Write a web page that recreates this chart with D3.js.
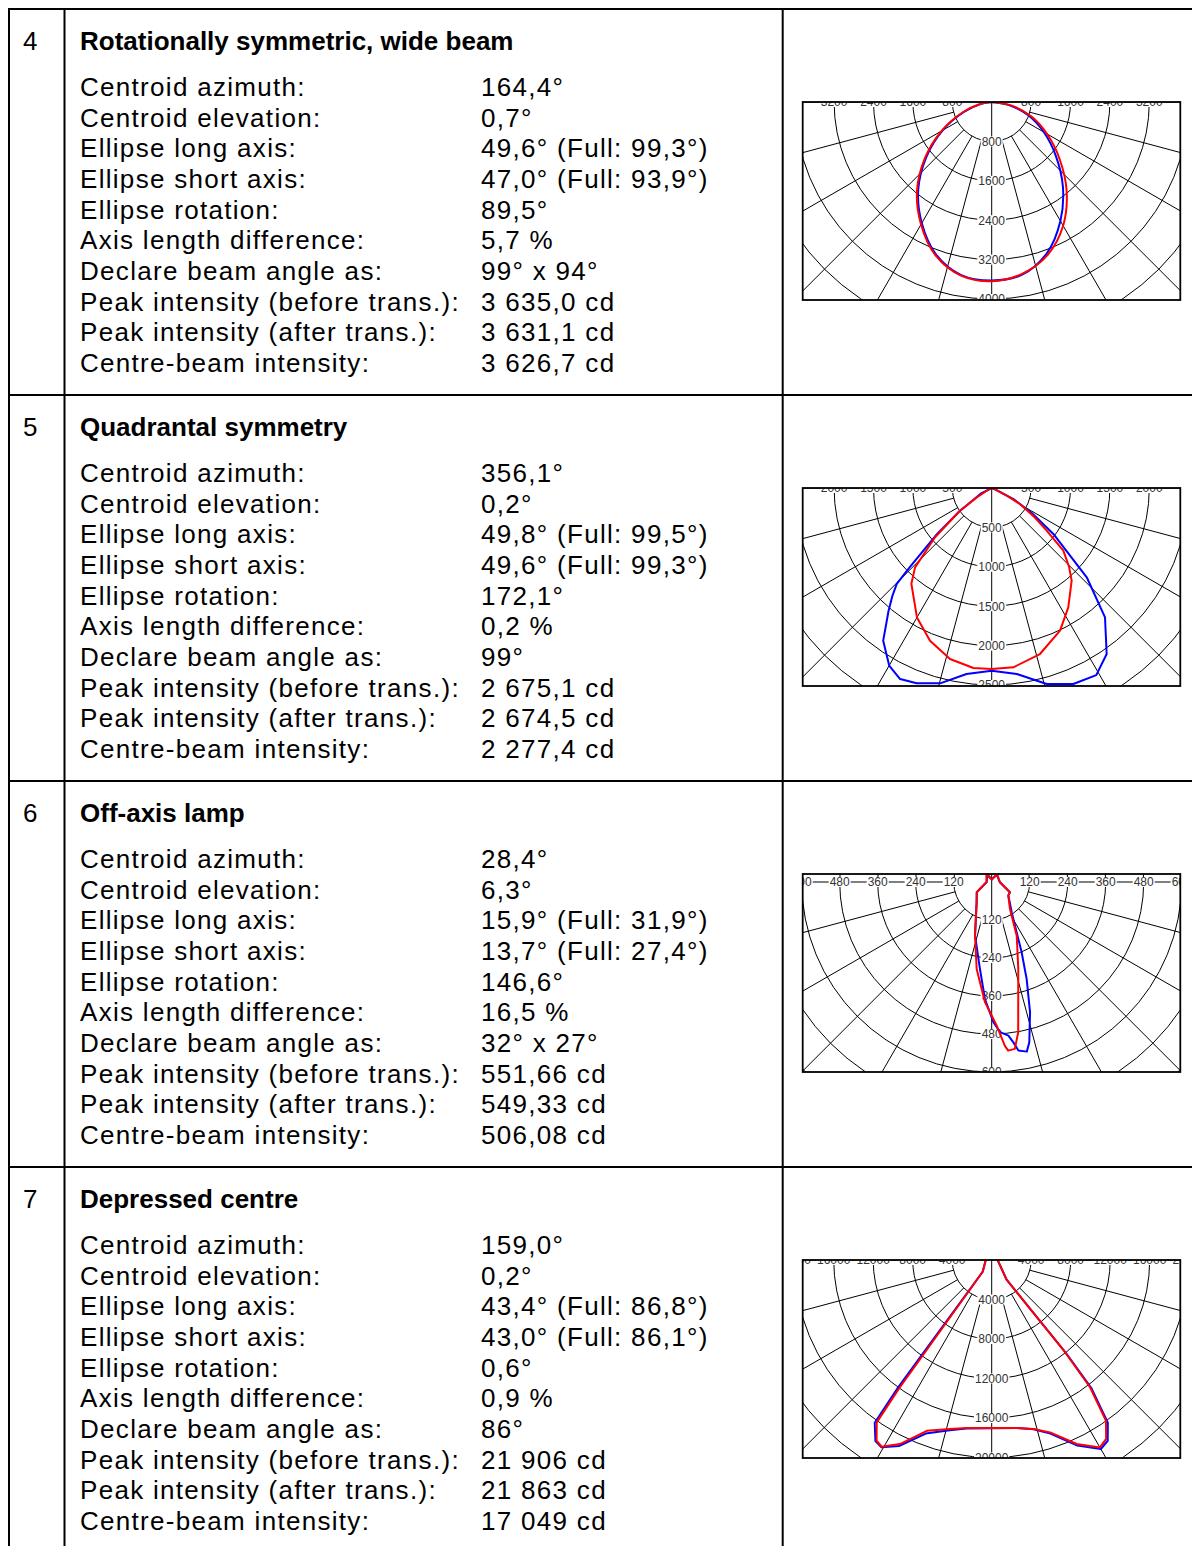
<!DOCTYPE html>
<html><head><meta charset="utf-8">
<script src="https://cdn.jsdelivr.net/npm/d3@7"></script>
<style>
html,body{margin:0;padding:0;background:#fff;}
svg{display:block;}
</style></head><body>
<svg id="c" width="1192" height="1546"></svg>
<script>
// ---------- table data ----------
const rowNumbers = ["4", "5", "6", "7"];
const rowTitles = ["Rotationally symmetric, wide beam", "Quadrantal symmetry", "Off-axis lamp", "Depressed centre"];
const fieldLabels = ["Centroid azimuth:", "Centroid elevation:", "Ellipse long axis:", "Ellipse short axis:",
  "Ellipse rotation:", "Axis length difference:", "Declare beam angle as:",
  "Peak intensity (before trans.):", "Peak intensity (after trans.):", "Centre-beam intensity:"];
const values4 = ["164,4°", "0,7°", "49,6° (Full: 99,3°)", "47,0° (Full: 93,9°)", "89,5°", "5,7 %", "99° x 94°", "3 635,0 cd", "3 631,1 cd", "3 626,7 cd"];
const values5 = ["356,1°", "0,2°", "49,8° (Full: 99,5°)", "49,6° (Full: 99,3°)", "172,1°", "0,2 %", "99°", "2 675,1 cd", "2 674,5 cd", "2 277,4 cd"];
const values6 = ["28,4°", "6,3°", "15,9° (Full: 31,9°)", "13,7° (Full: 27,4°)", "146,6°", "16,5 %", "32° x 27°", "551,66 cd", "549,33 cd", "506,08 cd"];
const values7 = ["159,0°", "0,2°", "43,4° (Full: 86,8°)", "43,0° (Full: 86,1°)", "0,6°", "0,9 %", "86°", "21 906 cd", "21 863 cd", "17 049 cd"];

// ---------- polar chart data: [angle from nadir (deg, left negative), intensity cd] ----------
const tickSteps = [800, 500, 120, 4000];
const radialLabelCounts = [5, 5, 5, 5];
const topLabelCounts = [4, 4, 5, 5];

const curve4Blue = [[-90,0],[-80,220],[-70,610],[-60,1150],[-50,1730],[-40,2320],[-30,2840],[-20,3300],[-10,3570],[0,3625],
  [10,3560],[20,3270],[30,2790],[40,2250],[50,1700],[60,1220],[70,790],[80,340],[90,0]];
const curve4Red = [[-90,0],[-80,240],[-70,640],[-60,1180],[-50,1768],[-40,2360],[-30,2870],[-20,3320],[-10,3580],[0,3641],
  [10,3545],[20,3310],[30,2900],[40,2368],[50,1800],[60,1300],[70,860],[80,400],[90,0]];

const curve5Blue = [[-90,0],[-68,0],[-63,150],[-58,250],[-54,520],[-50,900],[-47,1250],[-46,1445],[-44.7,1713],[-42.5,1870],
  [-40,2037],[-35.4,2377],[-30,2602],[-25.6,2689],[-21,2655],[-14.8,2564],[-7.7,2382],[0,2319],[7.7,2382],[15.7,2584],
  [22.6,2694],[29.2,2720],[34.7,2563],[41.2,2183],[46.8,1655],[53.3,976],[58,600],[63,310],[68,60],[75,0],[90,0]];
const curve5Red = [[-90,0],[-70,0],[-62,60],[-58,224],[-54.4,495],[-49,953],[-44,1400],[-40,1586],[-30,1897],[-22,2090],
  [-13.7,2233],[-5.8,2296],[0,2296],[6.9,2292],[16.2,2194],[25.6,2007],[32.7,1799],[40.8,1553],[44.5,1400],[48.8,1208],
  [52.2,883],[56,640],[60.5,412],[63,214],[68,40],[75,0],[90,0]];

const curve6Blue = [[-150,28],[-90,16],[-55.5,57],[-36.5,80],[-17.3,177],[-7.7,277],[-3.3,370],[0.7,443],[3.2,475],[6.2,488],
  [7.7,511],[9,539],[11.7,547],[13.2,520],[16.4,429],[19.8,326],[23.1,241],[26.4,177],[33.4,115],[45,78],[50.5,68],
  [60.6,66],[88,26],[145,28],[180,8],[-150,28]];
const curve6Red = [[-145,30],[-90,16],[-55.5,57.5],[-36.5,80],[-17.3,177],[-9.8,279],[-3.2,380],[2,454],[4.6,519],[5.6,535],
  [7.9,532],[10,482],[17,287],[25,187],[34.1,103],[50.5,68],[60.6,66],[88,26],[145,30],[180,8],[-145,30]];

const curve7Blue = [[-90,600],[-37.5,1500],[-36.5,4275],[-36.4,10100],[-36.3,16000],[-35.7,20300],[-32.7,21800],[-30.5,22000],
  [-26.5,21050],[-20.8,18800],[-13.9,17750],[-8.5,17250],[0,17050],[8.5,17200],[13.9,17650],[18.7,18550],[24.8,20700],
  [30,22100],[32.7,21750],[35.5,20250],[37.9,16400],[38.6,12000],[38.4,7860],[37.2,2500],[90,600]];
const curve7Red = [[-90,600],[-37.5,1500],[-36.3,4275],[-35.9,10090],[-35.8,15890],[-35.3,20150],[-32.5,21700],[-30.5,21950],
  [-26.5,20830],[-20.8,18500],[-13.9,17630],[-8.5,17200],[0,17020],[8.5,17200],[13.9,17630],[18.7,18430],[24.8,20530],
  [30,21920],[32.6,21510],[35.4,19980],[37.7,16290],[38.5,12000],[38.3,7860],[37,2500],[90,600]];

const tableValues = [values4, values5, values6, values7];
const curvesBlue = [curve4Blue, curve5Blue, curve6Blue, curve7Blue];
const curvesRed = [curve4Red, curve5Red, curve6Red, curve7Red];

// ---------- layout ----------
const W = 1192, H = 1546;
const rowTop = 9, rowH = 386;
const colX = [9, 64.5, 782.7];
const pxPerStep = [39.4, 39.4, 38, 39.5];
const centerOffset = [0, 0, 8, 0];
const box = {x0: 802.7, x1: 1180.3, top: 102, h: 198};

const svg = d3.select("#c");
svg.append("rect").attr("width", W).attr("height", H).attr("fill", "#fff");

const fontFam = "'Liberation Sans', Arial, Helvetica, sans-serif";

// table lines
const gLines = svg.append("g").attr("stroke", "#000").attr("stroke-width", 2);
for (let i = 0; i < 4; i++) {
  gLines.append("line").attr("x1", 8).attr("x2", W).attr("y1", rowTop + i * rowH).attr("y2", rowTop + i * rowH);
}
colX.forEach(x => gLines.append("line").attr("x1", x).attr("x2", x).attr("y1", rowTop - 1).attr("y2", H));

// text
rowTitles.forEach((t, i) => {
  const y0 = i * rowH;
  const g = svg.append("g").attr("font-family", fontFam).attr("fill", "#000");
  g.append("text").attr("x", 23).attr("y", y0 + 49.5).attr("font-size", 26).text(rowNumbers[i]);
  g.append("text").attr("x", 80).attr("y", y0 + 49.5).attr("font-size", 26).attr("font-weight", "bold").text(t);
  fieldLabels.forEach((lab, j) => {
    const y = y0 + 96 + j * 30.65;
    g.append("text").attr("x", 80).attr("y", y).attr("font-size", 26).attr("letter-spacing", 1.3).text(lab);
    g.append("text").attr("x", 481).attr("y", y).attr("font-size", 26).attr("letter-spacing", 1.3).text(tableValues[i][j]);
  });
});

// polar charts
const defs = svg.append("defs");
curvesRed.forEach((_, i) => {
  const top = box.top + i * rowH;
  const cx = (box.x0 + box.x1) / 2 + 0.2;
  const cy = top + centerOffset[i];
  const step = tickSteps[i];
  const r = d3.scaleLinear().domain([0, step]).range([0, pxPerStep[i]]);
  const proj = d => {
    const a = d[0] * Math.PI / 180, rr = r(d[1]);
    return [cx + rr * Math.sin(a), cy + rr * Math.cos(a)];
  };
  const clipId = "clip" + i;
  defs.append("clipPath").attr("id", clipId).append("rect")
    .attr("x", box.x0).attr("y", top).attr("width", box.x1 - box.x0).attr("height", box.h);
  const g = svg.append("g").attr("clip-path", `url(#${clipId})`);
  g.append("rect").attr("x", box.x0).attr("y", top).attr("width", box.x1 - box.x0).attr("height", box.h).attr("fill", "#fff");

  const grid = g.append("g").attr("stroke", "#000").attr("stroke-width", 1).attr("fill", "none");
  const ticks = d3.range(1, 9).map(k => k * step);
  grid.selectAll("circle").data(ticks).join("circle")
    .attr("cx", cx).attr("cy", cy).attr("r", d => r(d));
  const angles = d3.range(-90, 91, 15);
  grid.selectAll("line.rad").data(angles).join("line").attr("class", "rad")
    .attr("x1", a => a === 0 ? cx : proj([a, step])[0])
    .attr("y1", a => a === 0 ? cy - 20 : proj([a, step])[1])
    .attr("x2", a => proj([a, step * 12])[0])
    .attr("y2", a => proj([a, step * 12])[1]);

  // labels
  const labG = g.append("g").attr("font-family", fontFam).attr("font-size", 12).attr("fill", "#333");
  const labelData = [];
  d3.range(1, radialLabelCounts[i] + 1).forEach(k => {
    labelData.push({x: cx, y: cy + r(k * step), t: String(k * step)});
  });
  d3.range(1, topLabelCounts[i] + 1).forEach(k => {
    const v = k * step;
    labelData.push({x: cx - r(v), y: cy, t: String(v)});
    labelData.push({x: cx + r(v), y: cy, t: String(v)});
  });
  labelData.forEach(d => {
    const tw = d.t.length * 6.7;
    labG.append("rect").attr("x", d.x - tw / 2 - 1).attr("y", d.y - 5).attr("width", tw + 2).attr("height", 10).attr("fill", "#fff");
    labG.append("text").attr("x", d.x).attr("y", d.y + 4.3).attr("text-anchor", "middle").text(d.t);
  });

  const line = d3.line().curve(i === 0 ? d3.curveCatmullRom.alpha(0.5) : d3.curveLinear);
  g.append("path").attr("d", line(curvesBlue[i].map(proj))).attr("fill", "none")
    .attr("stroke", "#0000ff").attr("stroke-width", 2).attr("stroke-linejoin", "round");
  g.append("path").attr("d", line(curvesRed[i].map(proj))).attr("fill", "none")
    .attr("stroke", "#ff0000").attr("stroke-width", 2).attr("stroke-linejoin", "round");

  svg.append("rect").attr("x", box.x0).attr("y", top).attr("width", box.x1 - box.x0).attr("height", box.h)
    .attr("fill", "none").attr("stroke", "#000").attr("stroke-width", 1.8);
});
</script>
</body></html>
